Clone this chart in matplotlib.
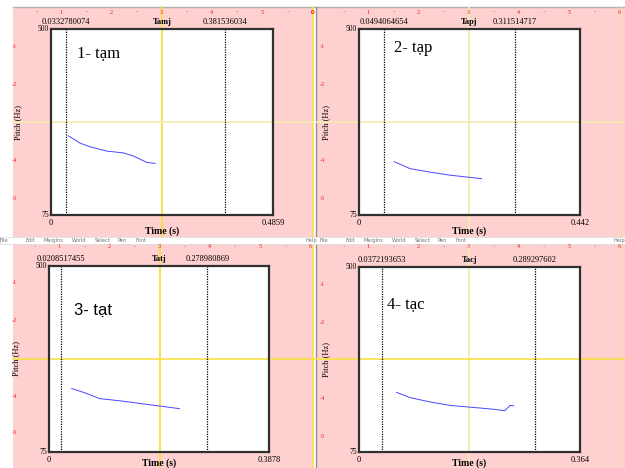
import numpy as np
import matplotlib.pyplot as plt
from matplotlib.patches import Rectangle
from matplotlib.lines import Line2D

W, H = 625, 468

words = ["1- tạm", "2- tạp", "3- tạt", "4- tạc"]
tiers = ["Tamj", "Tapj", "Tatj", "Tacj"]
t_end = [0.4859, 0.442, 0.3878, 0.364]
seg_start = [0.0332780074, 0.0494064654, 0.0208517455, 0.0372193653]
seg_end = [0.381536034, 0.311514717, 0.278980869, 0.289297602]
f_min, f_max = 75, 500

t_tam = [0.038, 0.064, 0.085, 0.122, 0.158, 0.180, 0.210, 0.228]
f_tam = [256, 239, 231, 221, 217, 210, 195, 193]
t_tap = [0.070, 0.102, 0.142, 0.182, 0.222, 0.245]
f_tap = [197, 181, 173, 166, 161, 158]
t_tat = [0.040, 0.066, 0.089, 0.125, 0.160, 0.195, 0.230]
f_tat = [220, 209, 197, 192, 186, 180, 174]
t_tac = [0.062, 0.084, 0.117, 0.150, 0.183, 0.216, 0.240, 0.249, 0.255]
f_tac = [212, 200, 190, 182, 178, 174, 170, 182, 181]
times = [t_tam, t_tap, t_tat, t_tac]
pitch = [f_tam, f_tap, f_tat, f_tac]

# ---------------- layout (pixels) ----------------
boxes = [(51, 29, 273, 215), (359, 29, 580, 215),
         (49, 266, 269, 452), (359, 267, 580, 452)]
word_pos = [(77, 53), (394, 48), (74, 310), (387, 304)]
word_font = ["Liberation Serif", "Liberation Serif", "Liberation Sans", "Liberation Serif"]

PINK = "#ffd0d0"
RED = "#e8202a"
YEL = "#f8e040"
YEL_LIGHT = "#f4ecb0"


def fx(x):
    return x / W


def fy(y):
    return 1 - y / H


fig = plt.figure(figsize=(W / 100, H / 100), dpi=100)
fig.patch.set_facecolor("white")

# pink picture-window areas
for (x0, y0, x1, y1) in [(13, 7, 313, 237), (316, 7, 625, 237),
                         (13, 244, 313, 468), (316, 244, 625, 468)]:
    fig.patches.append(Rectangle((fx(x0), fy(y1)), fx(x1 - x0), (y1 - y0) / H,
                                 transform=fig.transFigure, fc=PINK, ec="none", zorder=0))
# grey top border of the windows
fig.lines.append(Line2D([fx(13), fx(625)], [fy(7), fy(7)], transform=fig.transFigure,
                        color="#b0b0b0", lw=1, zorder=1))

# menu bar strip between the windows
fig.patches.append(Rectangle((0, fy(244)), 1, 7 / H, transform=fig.transFigure,
                             fc="white", ec="#d8d8d8", lw=0.5, zorder=1))
menus = ["File", "Edit", "Margins", "World", "Select", "Pen", "Font"]
menu_x = [0, 26, 43, 72, 95, 118, 135]
for off in (0, 318):
    for m, mx in zip(menus, menu_x):
        fig.text(fx(mx + off + (2 if off else 0)), fy(240.5), m, fontsize=3.6,
                 color="#707070", va="center", family="DejaVu Sans", zorder=2)
fig.text(fx(305), fy(240.5), "Help", fontsize=3.6, color="#707070", va="center", zorder=2)
fig.text(fx(613), fy(240.5), "Help", fontsize=3.6, color="#707070", va="center", zorder=2)

# window separators
fig.lines.append(Line2D([fx(313), fx(313)], [fy(7), fy(468)], transform=fig.transFigure,
                        color=YEL, lw=1.2, zorder=1))
fig.lines.append(Line2D([fx(316), fx(316)], [fy(7), fy(468)], transform=fig.transFigure,
                        color="#909090", lw=1.0, zorder=1))
fig.lines.append(Line2D([fx(621), fx(621)], [fy(7), fy(468)], transform=fig.transFigure,
                        color="#f0e0a0", lw=0.8, zorder=1))

# rulers (inches) along the tops and left sides
top_rulers = [(61, 12), (368, 12), (59, 247), (368, 247)]
for (x_first, yr) in top_rulers:
    for k in range(6):
        xx = x_first + 50.2 * k
        fig.text(fx(xx), fy(yr), str(k + 1), fontsize=4.5, color=RED,
                 ha="center", va="center", family="Liberation Serif", zorder=2)
        fig.text(fx(xx - 25), fy(yr), "·", fontsize=5, color=RED,
                 ha="center", va="center", zorder=2)
fig.text(fx(313), fy(12), "0", fontsize=4.5, color=RED, ha="center", va="center", zorder=2)
left_rulers = [(14, [47, 85, 160, 198]), (322, [47, 85, 160, 199]),
               (14, [282, 320, 397, 433]), (322, [284, 322, 398, 436])]
for (xr, ys) in left_rulers:
    for lab, yy in zip(["1", "2", "4", "5"], ys):
        fig.text(fx(xr), fy(yy), "-" + lab, fontsize=4.5, color=RED,
                 ha="center", va="center", family="Liberation Serif", zorder=2)

# yellow selection cursors
vlines = [(162, 7, 237, YEL), (469, 7, 237, YEL_LIGHT), (160, 244, 468, YEL), (469, 244, 468, YEL_LIGHT)]
for (xx, ya, yb, c) in vlines:
    fig.lines.append(Line2D([fx(xx), fx(xx)], [fy(ya), fy(yb)], transform=fig.transFigure,
                            color=c, lw=1.3, zorder=1))
hlines = [(122, 13, 313, YEL_LIGHT), (122, 316, 625, YEL_LIGHT), (359, 13, 625, YEL)]
for (yy, xa, xb, c) in hlines:
    fig.lines.append(Line2D([fx(xa), fx(xb)], [fy(yy), fy(yy)], transform=fig.transFigure,
                            color=c, lw=1.2, zorder=1))

serif = "Liberation Serif"
for i in range(4):
    x0, y0, x1, y1 = boxes[i]
    ax = fig.add_axes([fx(x0), fy(y1), (x1 - x0) / W, (y1 - y0) / H])
    ax.set_facecolor("white")
    ax.set_zorder(3)
    ax.set_xlim(0, t_end[i])
    ax.set_ylim(f_min, f_max)
    ax.set_xticks([])
    ax.set_yticks([])
    for s in ax.spines.values():
        s.set_color("#303030")
        s.set_linewidth(1.6)

    # interval boundaries
    for b in (seg_start[i], seg_end[i]):
        ax.axvline(b, color="black", lw=0.9, ls=(0, (1, 1)))
    # yellow cursor continues over the white box
    xc = (vlines[i][0] - x0) / (x1 - x0) * t_end[i]
    ax.axvline(xc, color=vlines[i][3], lw=1.3, zorder=0.5)
    ycur = hlines[0][0] if i < 2 else hlines[2][0]
    yc = f_max - (ycur - y0) / (y1 - y0) * (f_max - f_min)
    ax.axhline(yc, color=hlines[0][3] if i < 2 else YEL, lw=1.2, zorder=0.5)

    # pitch contour
    ax.plot(times[i], pitch[i], color="#4848ff", lw=0.7, zorder=3)

    ax.text(fx(word_pos[i][0]), fy(word_pos[i][1]), words[i], transform=fig.transFigure,
            fontsize=12, family=word_font[i], va="center", ha="left")

    tr = ax.get_xaxis_transform()
    ax.annotate(str(seg_start[i]), (seg_start[i], 1), xycoords=tr, xytext=(0, 7),
                textcoords="offset pixels", ha="center", va="center", fontsize=6, family=serif)
    ax.annotate(str(seg_end[i]), (seg_end[i], 1), xycoords=tr, xytext=(0, 7),
                textcoords="offset pixels", ha="center", va="center", fontsize=6, family=serif)
    ax.annotate(tiers[i], (0.5, 1), xycoords="axes fraction", xytext=(0, 7),
                textcoords="offset pixels", ha="center", va="center", fontsize=6,
                family=serif, fontweight="bold")

    ax.annotate(str(f_max), (0, 1), xycoords="axes fraction", xytext=(-2, 0),
                textcoords="offset pixels", ha="right", va="center", fontsize=5.5, family=serif)
    ax.annotate(str(f_min), (0, 0), xycoords="axes fraction", xytext=(-2, 0),
                textcoords="offset pixels", ha="right", va="center", fontsize=5.5, family=serif)
    ax.annotate("0", (0, 0), xycoords="axes fraction", xytext=(0, -8),
                textcoords="offset pixels", ha="center", va="center", fontsize=6, family=serif)
    ax.annotate(str(t_end[i]), (1, 0), xycoords="axes fraction", xytext=(0, -8),
                textcoords="offset pixels", ha="center", va="center", fontsize=6, family=serif)
    ax.annotate("Time (s)", (0.5, 0), xycoords="axes fraction",
                xytext=(0, -16 if i < 2 else -11),
                textcoords="offset pixels", ha="center", va="center", fontsize=7,
                family=serif, fontweight="bold", annotation_clip=False)
    ax.annotate("Pitch (Hz)", (0, 0.5), xycoords="axes fraction", xytext=(-33, 0),
                textcoords="offset pixels", ha="center", va="center", fontsize=6,
                family=serif, rotation=90)

fig.savefig("out.png", dpi=100)
